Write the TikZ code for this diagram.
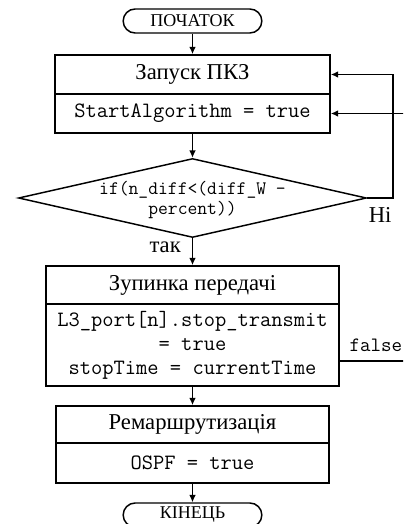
\documentclass[tikz,border=0pt]{standalone}
\usepackage{fontspec}
\setmainfont{Liberation Serif}
\usetikzlibrary{arrows.meta, shapes.geometric}
\tikzset{flow/.style={-{Latex[length=5.5pt,width=5pt]}, line width=0.9pt}}
\tikzset{terminal/.style={draw, line width=1.1pt, rounded corners=9pt, minimum width=104pt, minimum height=18pt, inner sep=0pt, font=\fontsize{13.5}{15}\selectfont}}
\tikzset{blocktitle/.style={draw, line width=1.3pt, inner sep=0pt, font=\fontsize{17}{20}\selectfont}}
\tikzset{blockcode/.style={draw, line width=1.3pt, inner sep=0pt, align=center, font=\fontsize{16.4}{18}\ttfamily}}
\tikzset{decision/.style={draw, diamond, line width=1.1pt, minimum width=261pt, minimum height=59.25pt, inner sep=0pt}}

\begin{document}
\begin{tikzpicture}[x=0.75pt, y=-0.75pt, every node/.style={font=\fontsize{17}{18}\selectfont}]
    \useasboundingbox (0,0) rectangle (403,524);
    \clip (0,0) rectangle (403,524);

    % Terminals
    \node[terminal] (start) at (192.5,21) {ПОЧАТОК};
    \node[terminal] (finish) at (192.5,515) {КІНЕЦЬ};

    % Blocks
    \node[blocktitle, minimum width=206.25pt, minimum height=29.25pt] (launch) at (192.5,74.5) {Запуск ПКЗ};
    \node[blockcode, minimum width=206.25pt, minimum height=29.25pt] (launchcode) at (192.5,113.5) {StartAlgorithm = true};

    \node[decision] (cond) at (192.5,198) {};
    \node[align=center, font=\fontsize{14.3}{15}\ttfamily] (condtext) at (192.5,200) {if(n\_diff<(diff\_W -\\percent))};

    \node[blocktitle, minimum width=219.75pt, minimum height=28.5pt] (halt) at (192.5,285) {Зупинка передачі};
    \node[blockcode, minimum width=219.75pt, minimum height=61.5pt] (haltcode) at (192.5,345) {L3\_port[n].stop\_transmit\\= true\\stopTime = currentTime};

    \node[blocktitle, minimum width=204.75pt, minimum height=27.75pt] (reroute) at (192.5,424.5) {Ремаршрутизація};
    \node[blockcode, minimum width=204.75pt, minimum height=30pt] (reroutecode) at (192.5,463) {OSPF = true};

    % Main flow
    \draw[flow] (start) -- (launch);
    \draw[flow] (launchcode) -- (cond);
    \draw[flow] (cond.south) -- node[left=5pt, pos=0.35] {так} (halt);
    \draw[flow] (haltcode) -- (reroute);
    \draw[flow] (reroutecode) -- (finish);

    % Loops back
    \coordinate (loopcorner) at (393,198);
    \coordinate (offpage) at (412,0);
    \coordinate (falsestart) at ([yshift=-12pt]haltcode.east);
    \draw[flow] (cond.east) -- node[below=3pt] {Ні} (loopcorner) |- (launch.east);
    \draw[flow] (falsestart) -- node[above=3pt, font=\fontsize{15.3}{16}\ttfamily] {false} (falsestart -| offpage) |- (launchcode.east);
\end{tikzpicture}
\end{document}
